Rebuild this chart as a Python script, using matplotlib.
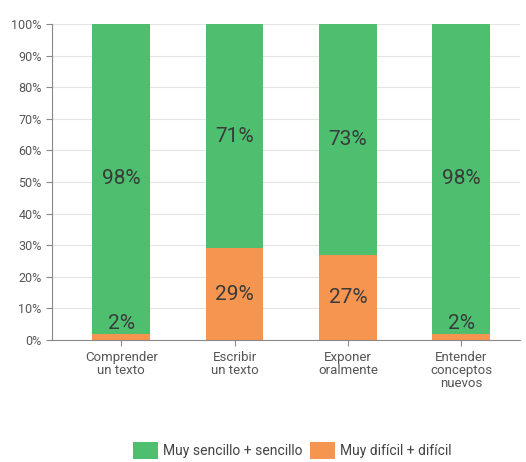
import matplotlib.pyplot as plt
from matplotlib.ticker import PercentFormatter

categories = ["Comprender\nun texto", "Escribir\nun texto", "Exponer\noralmente", "Entender\nconceptos\nnuevos"]
facil = [98, 71, 73, 98]
dificil = [2, 29, 27, 2]
series_names = ["Muy sencillo + sencillo", "Muy difícil + difícil"]

green = "#4dbf6f"
orange = "#f5954f"

plt.rcParams['font.family'] = ['Roboto', 'DejaVu Sans']

fig = plt.figure(figsize=(5.26, 4.62), dpi=100)
ax = fig.add_axes([0.099, 0.264, 0.89, 0.684])

x = range(len(categories))
b_low = ax.bar(x, dificil, width=0.51, color=orange, zorder=2)
b_high = ax.bar(x, facil, width=0.51, bottom=dificil, color=green, zorder=2)

for i in x:
    lo = dificil[i]
    y_lo = lo / 2 if lo > 8 else lo + 3.2
    ax.text(i, y_lo, f"{lo}%", ha="center", va="center", fontsize=15,
            color="#3a3a3a", zorder=3)
    ax.text(i, lo + facil[i] / 2, f"{facil[i]}%", ha="center", va="center",
            fontsize=15, color="#3a3a3a", zorder=3)

ax.set_xlim(-0.61, 3.52)
ax.set_ylim(0, 100)
ax.set_yticks(range(0, 101, 10))
ax.yaxis.set_major_formatter(PercentFormatter(decimals=0))
ax.set_xticks(list(x))
ax.set_xticklabels(categories, fontsize=9.5, color="#555555", linespacing=1.0)
ax.tick_params(axis="y", labelsize=9, labelcolor="#555555", color="#888888", length=4)
ax.tick_params(axis="x", color="#888888", length=4, pad=4)
ax.grid(axis="y", color="#e4e4e4", linewidth=0.8, zorder=0)
for s in ["top", "right"]:
    ax.spines[s].set_visible(False)
for s in ["left", "bottom"]:
    ax.spines[s].set_color("#888888")

fig.legend([b_high, b_low], series_names, loc="lower center", bbox_to_anchor=(0.556, -0.02),
           ncol=2, frameon=False, fontsize=10, handlelength=1.8, handleheight=1.5,
           handletextpad=0.4, columnspacing=0.5, labelcolor="#444444")

fig.savefig("out.png", dpi=100)
